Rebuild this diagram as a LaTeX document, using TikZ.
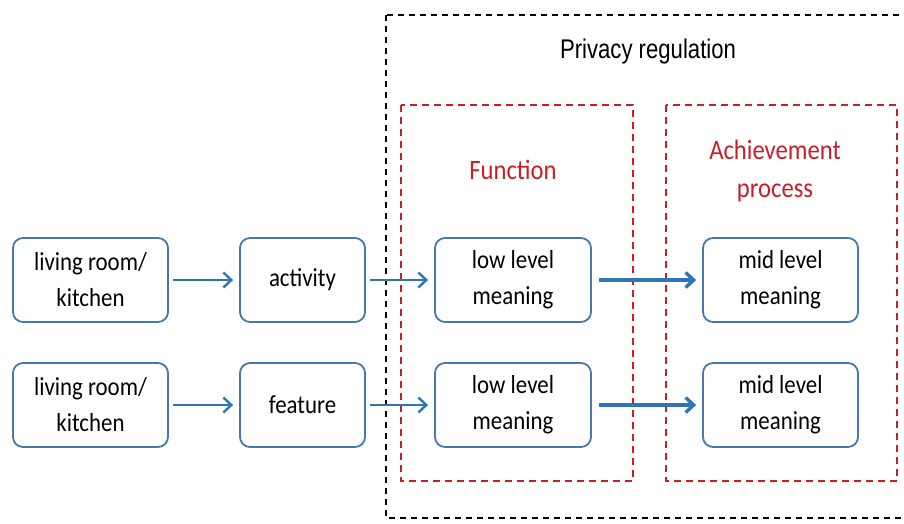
\documentclass[tikz,border=0pt]{standalone}
\usepackage{fontspec}
\setmainfont{Carlito}[FakeStretch=0.88]
\newfontfamily\headfont{Liberation Sans}[FakeStretch=0.82]
\usetikzlibrary{positioning,arrows.meta}
\definecolor{boxblue}{RGB}{70,120,170}
\definecolor{arrblue}{RGB}{46,117,182}
\definecolor{regred}{RGB}{200,30,40}

\begin{document}
\begin{tikzpicture}[x=1pt,y=-1pt,
            box/.style={rectangle,draw=boxblue,line width=1.8pt,
                        rounded corners=10pt,minimum width=155pt,
                        minimum height=84pt,align=center,inner sep=0pt,
                        font={\fontsize{26}{36}\selectfont}},
            arr/.style={-{Straight Barb[length=8pt,width=15pt]},arrblue,
                        line width=2.4pt,shorten <=4pt,shorten >=6pt},
            frame/.style={black,line width=1.5pt,dash pattern=on 6pt off 5pt},
            part/.style={regred,line width=2pt,dash pattern=on 7pt off 5pt},
            title/.style={regred,align=center,
                          font={\fontsize{28}{38}\selectfont}}]
            \useasboundingbox (0,0) rectangle (904,523);
            \clip (0,0) rectangle (904,523);
            % outer and inner frames
            \draw[frame] (386,15) rectangle (915,518);
            \draw[part] (401,105) rectangle (633,481);
            \draw[part] (666,105) rectangle (897,481);
            \node[font={\headfont\fontsize{27}{30}\selectfont}]
                       (reg) at (648,52) {Privacy regulation};
            \node[title] (fun) at (513,170) {Function};
            \node[title] (ach) at (775,171) {Achievement\\process};
            % first row
            \node[box] (room1) at (90.5,280) {living room/\\kitchen};
            \node[box,minimum width=125pt] (act) at (302.5,280) {activity};
            \node[box,minimum width=156pt] (low1) at (513,280) {low level\\meaning};
            \node[box] (mid1) at (780.5,280) {mid level\\meaning};
            % second row
            \node[box] (room2) at (90.5,405) {living room/\\kitchen};
            \node[box,minimum width=125pt] (feat) at (302.5,405) {feature};
            \node[box,minimum width=156pt] (low2) at (513,405) {low level\\meaning};
            \node[box] (mid2) at (780.5,405) {mid level\\meaning};
            \draw[arr] (room1)--(act);
            \draw[arr] (act)--(low1);
            \draw[arr,line width=3.4pt,shorten <=7pt] (low1)--(mid1);
            \draw[arr] (room2)--(feat);
            \draw[arr] (feat)--(low2);
            \draw[arr,line width=3.4pt,shorten <=7pt] (low2)--(mid2);
        \end{tikzpicture}
\end{document}
